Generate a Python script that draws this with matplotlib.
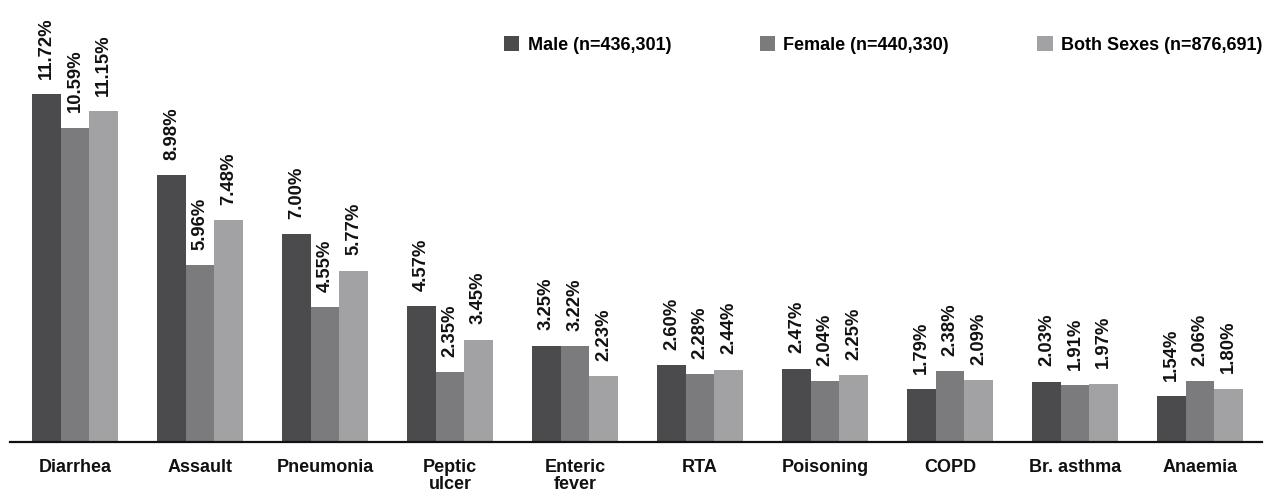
import matplotlib
matplotlib.use("Agg")
import matplotlib.pyplot as plt
from matplotlib.patches import Patch
import numpy as np

categories = ["Diarrhea", "Assault", "Pneumonia", "Peptic\nulcer", "Enteric\nfever",
              "RTA", "Poisoning", "COPD", "Br. asthma", "Anaemia"]
male = [11.72, 8.98, 7.00, 4.57, 3.25, 2.60, 2.47, 1.79, 2.03, 1.54]
female = [10.59, 5.96, 4.55, 2.35, 3.22, 2.28, 2.04, 2.38, 1.91, 2.06]
both = [11.15, 7.48, 5.77, 3.45, 2.23, 2.44, 2.25, 2.09, 1.97, 1.80]
series_names = ["Male (n=436,301)", "Female (n=440,330)", "Both Sexes (n=876,691)"]
colors = ["#4b4b4d", "#7b7b7d", "#a2a2a4"]

plt.rcParams["font.family"] = ["Liberation Sans", "DejaVu Sans"]
plt.rcParams["font.weight"] = "bold"

fig = plt.figure(figsize=(12.66, 4.93), dpi=100)
ax = fig.add_axes([10 / 1266, 51 / 493, 1252 / 1266, 442 / 493])

x = np.arange(len(categories))
width = 0.228
for k, (vals, col) in enumerate(zip([male, female, both], colors)):
    xs = x + (k - 1) * width
    ax.bar(xs, vals, width=width, color=col, linewidth=0)
    for xi, v in zip(xs, vals):
        ax.annotate(f"{v:.2f}%", (xi, v), xytext=(0, 11), textcoords="offset points",
                    rotation=90, ha="center", va="bottom", fontsize=13.3,
                    fontweight="bold", color="#111111")

ax.set_xlim(-0.52, 9.496)
ax.set_ylim(0, 14.89)
ax.set_xticks(x)
ax.set_xticklabels(categories, fontsize=13, fontweight="bold", color="#111111",
                   linespacing=1.0)
ax.tick_params(axis="x", length=0, pad=12)
ax.set_yticks([])
for s in ["top", "right", "left"]:
    ax.spines[s].set_visible(False)
ax.spines["bottom"].set_linewidth(1.6)
ax.spines["bottom"].set_color("#111111")

handles = [Patch(facecolor=c, edgecolor="none") for c in colors]
fig.legend(handles, series_names, ncol=3, loc="center right",
           bbox_to_anchor=(1262 / 1266, 1 - 45 / 493), bbox_transform=fig.transFigure,
           frameon=False, prop={"weight": "bold", "size": 13},
           handlelength=0.85, handleheight=0.85, handletextpad=0.45,
           columnspacing=4.9, borderaxespad=0, borderpad=0)

fig.savefig("out.png", dpi=100)
